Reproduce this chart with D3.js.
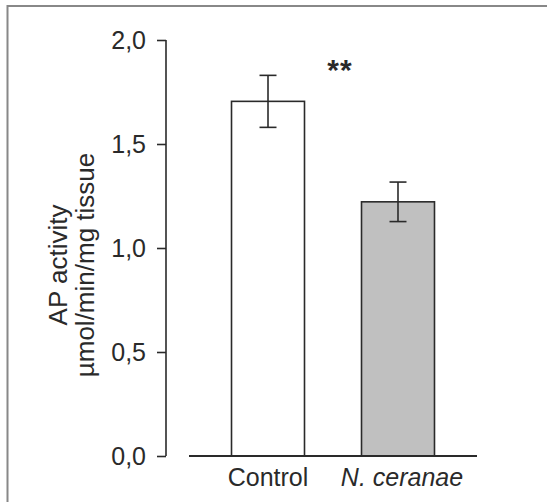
<!DOCTYPE html>
<html>
<head>
<meta charset="utf-8">
<script src="https://cdn.jsdelivr.net/npm/d3@7"></script>
<style>
  html, body { margin: 0; padding: 0; background: #fff; }
  svg { display: block; }
  text { font-family: "Liberation Sans", Arial, sans-serif; fill: #2a2a2a; }
</style>
</head>
<body>
<svg id="chart" width="547" height="502"></svg>
<script>
const categories = ["Control", "N. ceranae"];
const means = [1.705, 1.222];
const errors = [0.125, 0.095];
const fills = ["#ffffff", "#c0c0c0"];
const yTicks = [0, 0.5, 1.0, 1.5, 2.0];
const yTitle = ["AP activity", "µmol/min/mg tissue"];
const significance = "**";

const svg = d3.select("#chart");

// outer frame
svg.append("line").attr("x1", 7).attr("x2", 547).attr("y1", 6).attr("y2", 6)
  .attr("stroke", "#888").attr("stroke-width", 2);
svg.append("line").attr("x1", 7.5).attr("x2", 7.5).attr("y1", 5).attr("y2", 502)
  .attr("stroke", "#888").attr("stroke-width", 2);

const y = d3.scaleLinear().domain([0, 2]).range([456, 40]);
const x = d3.scaleBand().domain(categories).range([189, 477])
  .paddingInner(0.4385).paddingOuter(0.327);

const ink = "#2a2a2a";

// y axis
const yAxis = d3.axisLeft(y).tickValues(yTicks).tickSize(9).tickPadding(11)
  .tickFormat(d => d3.format(".1f")(d).replace(".", ","));
const gy = svg.append("g").attr("transform", "translate(166,0)").call(yAxis);
gy.select(".domain").remove();
gy.append("line").attr("x1", 0).attr("x2", 0).attr("y1", y(2)).attr("y2", y(0))
  .attr("stroke", ink).attr("stroke-width", 1.6);
gy.selectAll(".tick line").attr("stroke", ink).attr("stroke-width", 1.6);
gy.selectAll(".tick text").attr("font-size", 25).attr("fill", "#333")
  .style("font-family", "'Liberation Sans', Arial, sans-serif");

// bars
svg.selectAll("rect.bar").data(categories).enter().append("rect")
  .attr("class", "bar")
  .attr("x", d => x(d))
  .attr("y", (d, i) => y(means[i]))
  .attr("width", x.bandwidth())
  .attr("height", (d, i) => y(0) - y(means[i]))
  .attr("fill", (d, i) => fills[i])
  .attr("stroke", ink).attr("stroke-width", 1.6);

// x baseline
svg.append("line").attr("x1", 189).attr("x2", 477).attr("y1", y(0)).attr("y2", y(0))
  .attr("stroke", ink).attr("stroke-width", 1.8);

// error bars
const capW = 17;
const eb = svg.selectAll("g.err").data(categories).enter().append("g").attr("class", "err");
eb.append("line")
  .attr("x1", d => x(d) + x.bandwidth() / 2).attr("x2", d => x(d) + x.bandwidth() / 2)
  .attr("y1", (d, i) => y(means[i] + errors[i])).attr("y2", (d, i) => y(means[i] - errors[i]));
eb.append("line")
  .attr("x1", d => x(d) + x.bandwidth() / 2 - capW / 2).attr("x2", d => x(d) + x.bandwidth() / 2 + capW / 2)
  .attr("y1", (d, i) => y(means[i] + errors[i])).attr("y2", (d, i) => y(means[i] + errors[i]));
eb.append("line")
  .attr("x1", d => x(d) + x.bandwidth() / 2 - capW / 2).attr("x2", d => x(d) + x.bandwidth() / 2 + capW / 2)
  .attr("y1", (d, i) => y(means[i] - errors[i])).attr("y2", (d, i) => y(means[i] - errors[i]));
eb.selectAll("line").attr("stroke", ink).attr("stroke-width", 1.6);

// x labels
svg.selectAll("text.xlab").data(categories).enter().append("text")
  .attr("class", "xlab")
  .attr("x", (d, i) => x(d) + x.bandwidth() / 2 + (i === 1 ? 4 : 0))
  .attr("y", 486)
  .attr("text-anchor", "middle")
  .attr("font-size", 25)
  .attr("font-style", (d, i) => i === 1 ? "italic" : "normal")
  .text(d => d);

// significance
svg.append("text").attr("x", 340).attr("y", 80).attr("text-anchor", "middle")
  .attr("font-size", 30).attr("font-weight", "bold").attr("letter-spacing", 1)
  .text(significance);

// y title
const yt = svg.append("text").attr("transform", "translate(0,265) rotate(-90)")
  .attr("text-anchor", "middle").attr("font-size", 26);
yt.append("tspan").attr("x", 0).attr("y", 67).text(yTitle[0]);
yt.append("tspan").attr("x", 0).attr("y", 94).text(yTitle[1]);
</script>
</body>
</html>
